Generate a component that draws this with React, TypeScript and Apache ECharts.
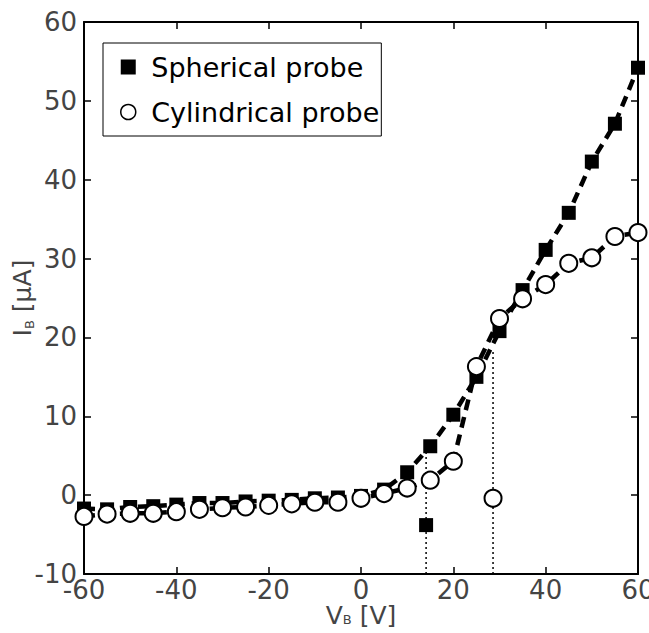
import React, { useEffect, useRef } from "react";
import * as echarts from "echarts";

const xValues = [-60, -55, -50, -45, -40, -35, -30, -25, -20, -15, -10, -5, 0, 5, 10, 15, 20, 25, 30, 35, 40, 45, 50, 55, 60];
const sphericalI = [-1.7, -1.8, -1.5, -1.4, -1.2, -1.0, -1.0, -0.8, -0.7, -0.6, -0.4, -0.3, -0.1, 0.7, 2.9, 6.2, 10.2, 15.0, 20.8, 26.0, 31.1, 35.8, 42.3, 47.1, 54.2];
const cylindricalI = [-2.7, -2.4, -2.3, -2.3, -2.1, -1.8, -1.6, -1.5, -1.3, -1.1, -0.9, -0.9, -0.4, 0.2, 0.9, 1.9, 4.3, 16.3, 22.4, 24.9, 26.7, 29.4, 30.1, 32.8, 33.3];
const sphericalOutlier = [[14.1, -3.8]];
const cylindricalOutlier = [[28.6, -0.4]];
const markerLines = [
  [[14.1, -10], [14.1, 5.8]],
  [[28.6, -10], [28.6, 18.5]],
];
const xTicks = { min: -60, max: 60, interval: 20 };
const yTicks = { min: -10, max: 60, interval: 10 };

export default function App() {
  const ref = useRef<HTMLDivElement>(null);
  useEffect(() => {
    if (!ref.current) return;
    const chart = echarts.init(ref.current, undefined, { renderer: "svg" });
    const font = "DejaVu Sans";
    const labelColor = "#444";
    const axisBase = {
      axisLine: { show: true, onZero: false, lineStyle: { color: "#000", width: 2 } },
      axisTick: { show: true, inside: true, length: 7, lineStyle: { color: "#000", width: 1.5 } },
      splitLine: { show: false },
    };
    const sph = xValues.map((x, i) => [x, sphericalI[i]]);
    const cyl = xValues.map((x, i) => [x, cylindricalI[i]]);
    const dashed = { color: "#000", width: 4.5, type: [11, 7] as number[] };
    const nameRichX = {
      a: { fontFamily: font, fontSize: 25, color: labelColor, lineHeight: 22 },
      s: { fontFamily: font, fontSize: 13, color: labelColor, verticalAlign: "bottom", lineHeight: 22, padding: [12, 0, 0, 0] },
    };
    const nameRichY = {
      a: { fontFamily: font, fontSize: 25, color: labelColor, lineHeight: 28 },
      s: { fontFamily: font, fontSize: 13, color: labelColor, verticalAlign: "bottom", lineHeight: 28, padding: [14, 0, 0, 0] },
    };
    chart.setOption({
      animation: false,
      grid: { left: 84, right: 11, top: 22, bottom: 59, outerBoundsMode: "none", containLabel: false },
      legend: {
        left: 103,
        top: 43,
        orient: "vertical",
        borderColor: "#000",
        borderWidth: 1,
        padding: [9, 2, 9, 17],
        itemGap: 15,
        itemWidth: 36,
        itemHeight: 15,
        textStyle: { fontFamily: font, fontSize: 27, color: "#000", lineHeight: 30 },
        data: [
          { name: "Spherical probe", icon: "path://M0,0L10,0L10,10L0,10Z", itemStyle: { color: "#000" } },
          { name: "Cylindrical probe", icon: "circle", itemStyle: { color: "#fff", borderColor: "#000", borderWidth: 1.5 } },
        ],
      },
      xAxis: [
        {
          type: "value",
          ...xTicks,
          position: "bottom",
          ...axisBase,
          axisLabel: { fontFamily: font, fontSize: 26, color: labelColor, margin: 3 },
          name: "{a|V}{s|B}{a| [V]}",
          nameLocation: "middle",
          nameGap: 30,
          nameMoveOverlap: false,
          nameTextStyle: { rich: nameRichX },
        },
        {
          type: "value",
          ...xTicks,
          position: "top",
          ...axisBase,
          axisLabel: { show: false },
        },
      ],
      yAxis: [
        {
          type: "value",
          ...yTicks,
          position: "left",
          ...axisBase,
          axisLabel: { fontFamily: font, fontSize: 26, color: labelColor, margin: 7 },
          name: "{a|I}{s|B}{a| [μA]}",
          nameLocation: "middle",
          nameRotate: 90,
          nameGap: 48,
          nameMoveOverlap: false,
          nameTextStyle: { rich: nameRichY },
        },
        {
          type: "value",
          ...yTicks,
          position: "right",
          ...axisBase,
          axisLabel: { show: false },
        },
      ],
      series: [
        {
          type: "line",
          silent: true,
          symbol: "none",
          data: markerLines[0],
          lineStyle: { color: "#000", width: 1.5, type: [2, 3] },
          z: 1,
        },
        {
          type: "line",
          silent: true,
          symbol: "none",
          data: markerLines[1],
          lineStyle: { color: "#000", width: 1.5, type: [2, 3] },
          z: 1,
        },
        {
          name: "Spherical probe",
          type: "line",
          data: sph,
          symbol: "rect",
          symbolSize: 14,
          itemStyle: { color: "#000" },
          lineStyle: dashed,
          z: 2,
        },
        {
          name: "Spherical probe",
          type: "scatter",
          data: sphericalOutlier,
          symbol: "rect",
          symbolSize: 14,
          itemStyle: { color: "#000", opacity: 1 },
          z: 2,
        },
        {
          name: "Cylindrical probe",
          type: "line",
          data: cyl,
          symbol: "circle",
          symbolSize: 17,
          itemStyle: { color: "#fff", borderColor: "#000", borderWidth: 2 },
          lineStyle: dashed,
          z: 3,
        },
        {
          name: "Cylindrical probe",
          type: "scatter",
          data: cylindricalOutlier,
          symbol: "circle",
          symbolSize: 17,
          itemStyle: { color: "#fff", borderColor: "#000", borderWidth: 2, opacity: 1 },
          z: 3,
        },
      ],
    });
    return () => chart.dispose();
  }, []);
  return <div ref={ref} style={{ position: "absolute", left: 0, top: 0, width: 649, height: 633 }} />;
}
